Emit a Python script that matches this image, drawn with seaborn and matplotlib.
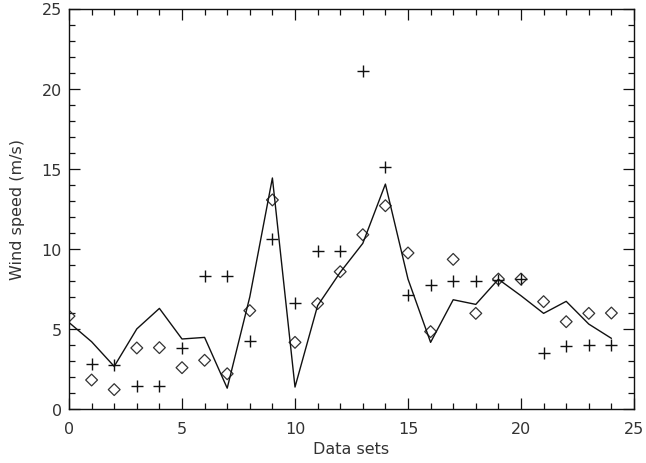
import numpy as np
import pandas as pd
import seaborn as sns
import matplotlib
matplotlib.use("Agg")
import matplotlib.pyplot as plt
from matplotlib.ticker import MultipleLocator

# Model wind speed (solid line), observed set A (diamonds), observed set B (crosses)
line_x = list(range(0, 25))
line_y = [5.4, 4.2, 2.66, 5.0, 6.28, 4.37, 4.47, 1.3, 7.0, 14.42, 1.37, 6.45,
          8.53, 10.34, 14.04, 8.11, 4.16, 6.82, 6.53, 8.1, 7.07, 5.97, 6.72, 5.3, 4.41]

diamond_x = list(range(0, 25))
diamond_y = [5.8, 1.81, 1.21, 3.81, 3.83, 2.58, 3.04, 2.2, 6.14, 13.05, 4.16, 6.58,
             8.57, 10.88, 12.69, 9.74, 4.83, 9.34, 5.97, 8.11, 8.11, 6.7, 5.45, 5.97, 5.99]

plus_x = list(range(1, 25))
plus_y = [2.81, 2.75, 1.46, 1.46, 3.79, 8.3, 8.3, 4.22, 10.61, 6.62, 9.85,
          9.86, 21.12, 15.13, 7.14, 7.74, 8.01, 8.01, 8.07, 8.11, 3.5, 3.95, 4.02, 4.02]

x_ticks = [0, 5, 10, 15, 20, 25]
y_ticks = [0, 5, 10, 15, 20, 25]

sns.set_theme(style="ticks")
plt.rcParams["font.family"] = ["DejaVu Sans"]

fig = plt.figure(figsize=(6.46, 4.64), dpi=100)
ax = fig.add_axes([69 / 646, 1 - 410 / 464, 565 / 646, 400.5 / 464])

df_line = pd.DataFrame({"x": line_x, "y": line_y})
df_dia = pd.DataFrame({"x": diamond_x, "y": diamond_y})
df_plus = pd.DataFrame({"x": plus_x, "y": plus_y})

sns.lineplot(data=df_line, x="x", y="y", ax=ax, color="#111111", linewidth=1.0)
sns.scatterplot(data=df_dia, x="x", y="y", ax=ax, marker="D", s=36,
                facecolor="none", edgecolor="#333333", linewidth=0.9)
sns.scatterplot(data=df_plus, x="x", y="y", ax=ax, marker="+", s=64,
                color="#111111", linewidth=1.0)

ax.set_xlim(0, 25)
ax.set_ylim(0, 25)
ax.set_xticks(x_ticks)
ax.set_yticks(y_ticks)
ax.xaxis.set_minor_locator(MultipleLocator(1))
ax.yaxis.set_minor_locator(MultipleLocator(1))
ax.tick_params(which="both", direction="in", top=True, right=True,
               colors="#111111", width=0.9)
ax.tick_params(which="major", length=8, labelsize=11.5, labelcolor="#333333")
ax.tick_params(which="minor", length=4.5)
ax.tick_params(axis="x", which="major", pad=9)
ax.tick_params(axis="y", which="major", pad=5)

for sp in ax.spines.values():
    sp.set_color("#111111")
    sp.set_linewidth(1.0)

ax.set_xlabel("Data sets", fontsize=11.5, color="#333333", labelpad=3)
ax.set_ylabel("Wind speed (m/s)", fontsize=11.5, color="#333333", labelpad=12)

fig.savefig("out.png", dpi=100, facecolor="white")
